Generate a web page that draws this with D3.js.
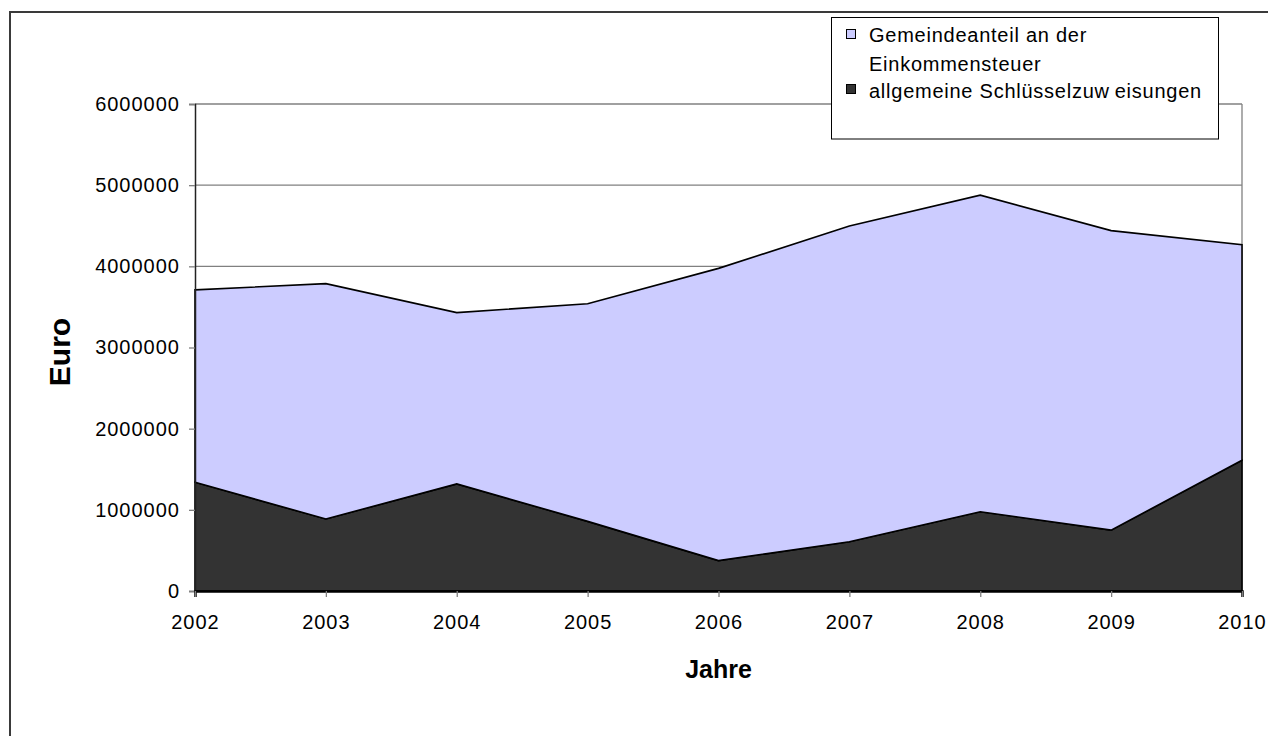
<!DOCTYPE html>
<html>
<head>
<meta charset="utf-8">
<script src="https://cdn.jsdelivr.net/npm/d3@7"></script>
<style>
  html, body { margin: 0; padding: 0; background: #fff; }
  svg { display: block; }
  text { font-family: "Liberation Sans", Arial, sans-serif; fill: #000; }
</style>
</head>
<body>
<svg id="chart" width="1268" height="736"></svg>
<script>
// ---- data ----
const years = ["2002", "2003", "2004", "2005", "2006", "2007", "2008", "2009", "2010"];
const schluesselzuweisungen = [1340000, 887000, 1320000, 858000, 375000, 606000, 977000, 750000, 1610000];
const einkommensteuer = [2370000, 2900000, 2110000, 2680000, 3600000, 3890000, 3900000, 3690000, 2656000];
const yTickValues = [0, 1000000, 2000000, 3000000, 4000000, 5000000, 6000000];
const xTitle = "Jahre";
const yTitle = "Euro";

// ---- layout ----
const svg = d3.select("#chart");
const plotLeft = 195, plotRight = 1242, plotTop = 104, plotBottom = 591;

// outer frame
svg.append("rect")
  .attr("x", 10).attr("y", 12).attr("width", 1300).attr("height", 800)
  .attr("fill", "#fff").attr("stroke", "#3a3a3a").attr("stroke-width", 2);

const x = d3.scalePoint().domain(years).range([plotLeft, plotRight]);
const y = d3.scaleLinear().domain([0, 6000000]).range([plotBottom, plotTop]);

// gridlines
svg.append("g").selectAll("line")
  .data(yTickValues.filter(d => d > 0))
  .join("line")
  .attr("x1", plotLeft).attr("x2", plotRight)
  .attr("y1", d => y(d)).attr("y2", d => y(d))
  .attr("stroke", "#808080").attr("stroke-width", 1.3);

svg.append("line")
  .attr("x1", plotRight).attr("x2", plotRight).attr("y1", plotTop).attr("y2", plotBottom)
  .attr("stroke", "#808080").attr("stroke-width", 1.3);

// stacked areas
const table = years.map((yr, i) => ({ year: yr, s: schluesselzuweisungen[i], e: einkommensteuer[i] }));
const stacked = d3.stack().keys(["s", "e"])(table);
const colors = { s: "#333333", e: "#CCCCFF" };

const area = d3.area()
  .x(d => x(d.data.year))
  .y0(d => y(d[0]))
  .y1(d => y(d[1]));

svg.append("g").selectAll("path")
  .data(stacked)
  .join("path")
  .attr("d", area)
  .attr("fill", d => colors[d.key])
  .attr("stroke", "#000")
  .attr("stroke-width", 1.6)
  .attr("stroke-linejoin", "miter");

// axes
const yAxis = d3.axisLeft(y).tickValues(yTickValues).tickSize(6).tickPadding(9)
  .tickFormat(d3.format("d"));
const gy = svg.append("g").attr("transform", `translate(${plotLeft},0)`).call(yAxis);
gy.select(".domain").attr("stroke", "#222").attr("stroke-width", 1.5);
gy.selectAll(".tick line").attr("stroke", "#808080").attr("stroke-width", 1.3);
gy.selectAll(".tick text")
  .attr("font-size", 20).attr("letter-spacing", 1)
  .attr("font-family", "'Liberation Sans', Arial, sans-serif")
  .attr("fill", "#000");

const xAxis = d3.axisBottom(x).tickSize(6).tickPadding(18);
const gx = svg.append("g").attr("transform", `translate(0,${plotBottom})`).call(xAxis);
gx.select(".domain").attr("stroke", "#000").attr("stroke-width", 2.5);
gx.selectAll(".tick line").attr("stroke", "#808080").attr("stroke-width", 1.3);
gx.selectAll(".tick text")
  .attr("font-size", 20).attr("letter-spacing", 1)
  .attr("font-family", "'Liberation Sans', Arial, sans-serif")
  .attr("fill", "#000");

// axis titles
svg.append("text")
  .attr("x", (plotLeft + plotRight) / 2).attr("y", 678)
  .attr("text-anchor", "middle")
  .attr("font-size", 25).attr("font-weight", "bold")
  .text(xTitle);

svg.append("text")
  .attr("transform", "translate(70,352) rotate(-90)")
  .attr("text-anchor", "middle")
  .attr("font-size", 30).attr("font-weight", "bold")
  .text(yTitle);

// legend
const lg = svg.append("g");
lg.append("rect")
  .attr("x", 831.5).attr("y", 17.5).attr("width", 387).attr("height", 121.5)
  .attr("fill", "#fff").attr("stroke", "#000").attr("stroke-width", 1);

lg.append("rect")
  .attr("x", 846.5).attr("y", 29.5).attr("width", 9).attr("height", 9)
  .attr("fill", colors.e).attr("stroke", "#000").attr("stroke-width", 1);
const t1 = lg.append("text").attr("x", 869).attr("y", 41.5)
  .attr("font-size", 20).attr("letter-spacing", 0.75);
t1.append("tspan").attr("x", 869).attr("y", 41.5).text("Gemeindeanteil an der");
t1.append("tspan").attr("x", 869).attr("y", 70.5).text("Einkommensteuer");

lg.append("rect")
  .attr("x", 846.5).attr("y", 84.5).attr("width", 9).attr("height", 9)
  .attr("fill", colors.s).attr("stroke", "#000").attr("stroke-width", 1);
const t2 = lg.append("text").attr("x", 869).attr("y", 97.5)
  .attr("font-size", 20).attr("letter-spacing", 0.75);
t2.append("tspan").text("allgemeine Schlüsselzuw");
t2.append("tspan").attr("dx", 5).text("eisungen");
</script>
</body>
</html>
